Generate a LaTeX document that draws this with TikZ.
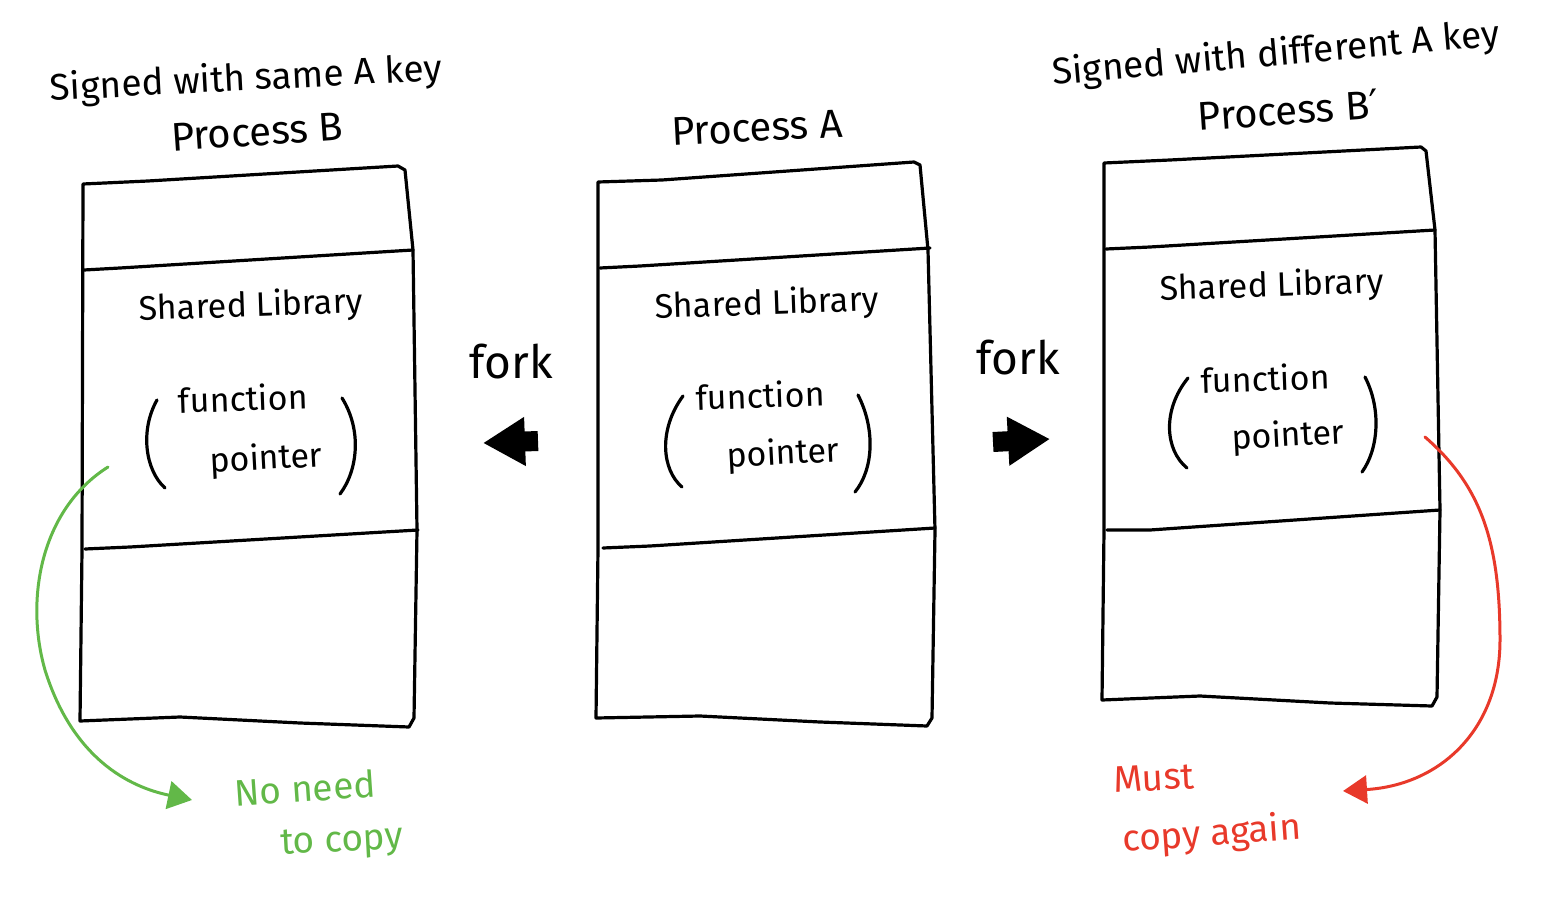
\documentclass[tikz,border=0pt]{standalone}
\usepackage{fontspec}
\setmainfont{Fira Sans}
\newfontfamily\primefont{DejaVu Sans}
\usetikzlibrary{arrows.meta}
\definecolor{hgreen}{RGB}{98,184,72}
\definecolor{hred}{RGB}{232,57,42}
\begin{document}
\begin{tikzpicture}[x=1pt,y=-1pt,
  hand/.style={line width=3.2pt, line cap=round, line join=round},
  big/.style={font=\fontsize{40}{44}\selectfont, inner sep=0pt},
  mid/.style={font=\fontsize{37}{40}\selectfont, inner sep=0pt},
  small/.style={font=\fontsize{34}{38}\selectfont, inner sep=0pt},
  forkfont/.style={font=\fontsize{46}{50}\selectfont, inner sep=0pt},
  forkarrow/.style={line width=20pt, -{Triangle[length=42pt,width=46pt]}},
  curvearrow/.style={line width=3pt, line cap=round, -{Triangle[length=24pt,width=28pt]}}]
\useasboundingbox (0,0) rectangle (1566,920);

% ---------- boxes ----------
\draw[hand] (83,184) -- (148,181) -- (398,166) -- (405,170) -- (413,250) -- (417,530) -- (414,718) -- (409,727) -- (300,723) -- (180,717) -- (80,721) -- (82,550) -- cycle;
\draw[hand] (84,270) -- (120,268) -- (413,250);
\draw[hand] (85,549) -- (130,547) -- (418,530);

\draw[hand] (598,182) -- (662,180) -- (914,162) -- (920,165) -- (928,250) -- (935,530) -- (932,718) -- (927,726) -- (820,722) -- (700,716) -- (596,718) -- (598,548) -- cycle;
\draw[hand] (600,268) -- (640,266) -- (930,248);
\draw[hand] (603,548) -- (650,546) -- (935,528);

\draw[hand] (1104,163) -- (1170,160) -- (1421,147) -- (1426,151) -- (1435,230) -- (1440,510) -- (1437,697) -- (1432,706) -- (1330,703) -- (1200,696) -- (1102,700) -- (1104,530) -- cycle;
\draw[hand] (1106,249) -- (1150,247) -- (1435,230);
\draw[hand] (1107,530) -- (1150,530) -- (1440,510);

% ---------- parentheses ----------
\draw[hand] (157,400) .. controls (140,430) and (145,470) .. (165,488);
\draw[hand] (342,398) .. controls (362,430) and (358,470) .. (340,494);
\draw[hand] (683,396) .. controls (658,430) and (662,470) .. (682,487);
\draw[hand] (858,395) .. controls (876,430) and (873,470) .. (855,492);
\draw[hand] (1188,378) .. controls (1162,410) and (1165,450) .. (1187,468);
\draw[hand] (1365,377) .. controls (1382,410) and (1378,450) .. (1362,472);

% ---------- titles ----------
\node[mid, rotate=3] (signB) at (246,80) {Signed with same A key};
\node[big, rotate=4] (procB) at (257,132) {Process B};
\node[big, rotate=3] (procA) at (757,128) {Process A};
\node[mid, rotate=5] (signBp) at (1276,55) {Signed with different A key};
\node[big, rotate=4] (procBp) at (1288,110) {Process B{\primefont ′}};

% ---------- box contents ----------
\node[small, rotate=2] (libB) at (251,307) {Shared Library};
\node[small, rotate=2] (libA) at (767,305) {Shared Library};
\node[small, rotate=2] (libBp) at (1272,287) {Shared Library};
\node[small, rotate=2] (funB) at (243,398) {function};
\node[small, rotate=2] (funA) at (760,395) {function};
\node[small, rotate=2] (funBp) at (1265,378) {function};
\node[small, rotate=3] (ptrB) at (266,460) {pointer};
\node[small, rotate=3] (ptrA) at (783,455) {pointer};
\node[small, rotate=3] (ptrBp) at (1288,437) {pointer};

% ---------- fork ----------
\node[forkfont] (forkL) at (511,362) {fork};
\node[forkfont] (forkR) at (1018,358) {fork};
\coordinate (fLs) at (538,441);
\coordinate (fLe) at (483,443);
\coordinate (fRs) at (993,442);
\coordinate (fRe) at (1050,439);
\draw[forkarrow] (fLs) -- (fLe);
\draw[forkarrow] (fRs) -- (fRe);

% ---------- notes ----------
\node[mid, text=hgreen, rotate=4] (noneed) at (305,788) {No need};
\node[mid, text=hgreen, rotate=3] (tocopy) at (342,843) {to copy};
\node[mid, text=hred, rotate=3] (must) at (1154,778) {Must};
\node[mid, text=hred, rotate=4] (copyagain) at (1212,835) {copy again};

\coordinate (gstart) at (108,467);
\coordinate (gtip) at (192,800);
\coordinate (rstart) at (1425,437);
\coordinate (rtip) at (1343,791);
\draw[curvearrow, hgreen] (gstart) .. controls (40,510) and (25,600) .. (45,670)
  .. controls (70,750) and (120,785) .. (gtip);
\draw[curvearrow, hred] (rstart) .. controls (1480,485) and (1500,540) .. (1500,640)
  .. controls (1500,730) and (1440,785) .. (rtip);
\end{tikzpicture}
\end{document}
